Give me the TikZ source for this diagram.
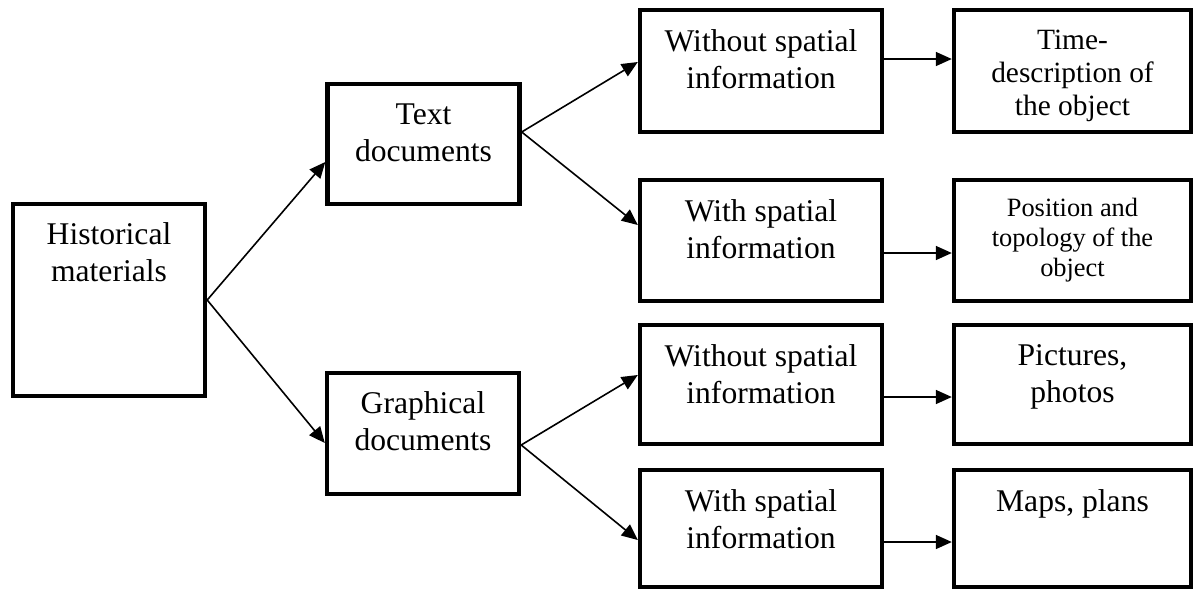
\documentclass[tikz,border=0pt]{standalone}
\usepackage{fontspec}
\setmainfont{Liberation Serif}
\usetikzlibrary{arrows.meta}

\begin{document}
\begin{tikzpicture}[
  x=0.5pt, y=-0.5pt,
  box/.style={draw, line width=2.2pt, inner sep=0pt},
  leftbox/.style={box, minimum width=96pt},
  midbox/.style={box, minimum width=121pt},
  rightbox/.style={box, minimum width=118.5pt},
  lbl/.style={align=center, inner sep=0pt, anchor=base,
    font=\fontsize{15.8}{18.5}\selectfont},
  lblsmall/.style={lbl, font=\fontsize{14.7}{16.5}\selectfont},
  lbltiny/.style={lbl, font=\fontsize{13.2}{15}\selectfont},
  arr/.style={-{Triangle[length=8pt,width=7pt]}, line width=0.8pt},
]
\useasboundingbox (0,0) rectangle (1195,590);

% first level
\node[box, minimum width=96pt, minimum height=96pt] (H) at (109,300) {};
% second level
\node[leftbox, minimum height=60pt]   (T) at (423.5,144) {};
\node[leftbox, minimum height=60.5pt] (G) at (423,433.5) {};
% third level
\node[midbox, minimum height=61pt]   (A1) at (761,71) {};
\node[midbox, minimum height=60.5pt] (B1) at (761,240.5) {};
\node[midbox, minimum height=59.5pt] (C1) at (761,384.5) {};
\node[midbox, minimum height=58.5pt] (D1) at (761,528.5) {};
% fourth level
\node[rightbox, minimum height=61pt]   (A2) at (1072.5,71) {};
\node[rightbox, minimum height=60.5pt] (B2) at (1072.5,240.5) {};
\node[rightbox, minimum height=59.5pt] (C2) at (1072.5,384.5) {};
\node[rightbox, minimum height=58.5pt] (D2) at (1072.5,528.5) {};

% box captions; the base anchor sits on the last line, so the shift
% covers the first baseline plus the lines below it
\node[lbl] (Ht) at ([yshift=-40pt]H.north) {Historical\\materials};
\node[lbl] (Tt) at ([yshift=-40pt]T.north) {Text\\documents};
\node[lbl] (Gt) at ([yshift=-40pt]G.north) {Graphical\\documents};
\node[lbl] (A1t) at ([yshift=-40.5pt]A1.north) {Without spatial\\information};
\node[lbl] (B1t) at ([yshift=-40.5pt]B1.north) {With spatial\\information};
\node[lbl] (C1t) at ([yshift=-40.5pt]C1.north) {Without spatial\\information};
\node[lbl] (D1t) at ([yshift=-40.5pt]D1.north) {With spatial\\information};
\node[lblsmall] (A2t) at ([yshift=-54pt]A2.north) {Time-\\description of\\the object};
\node[lbltiny] (B2t) at ([yshift=-49.5pt]B2.north) {Position and\\topology of the\\object};
\node[lbl] (C2t) at ([yshift=-40pt]C2.north) {Pictures,\\photos};
\node[lbl] (D2t) at ([yshift=-22pt]D2.north) {Maps, plans};

% connectors
\draw[arr] (H.east) -- (T.west |- 0,162);
\draw[arr] (H.east) -- (G.west |- 0,443);
\draw[arr] (T.east |- 0,132) -- (A1.west |- 0,62);
\draw[arr] (T.east |- 0,132) -- (B1.west |- 0,225);
\draw[arr] (G.east |- 0,445) -- (C1.west |- 0,375);
\draw[arr] (G.east |- 0,445) -- (D1.west |- 0,540);
\draw[arr] (A1.east |- 0,59)  -- (A2.west |- 0,59);
\draw[arr] (B1.east |- 0,253) -- (B2.west |- 0,253);
\draw[arr] (C1.east |- 0,397) -- (C2.west |- 0,397);
\draw[arr] (D1.east |- 0,542) -- (D2.west |- 0,542);
\end{tikzpicture}
\end{document}
